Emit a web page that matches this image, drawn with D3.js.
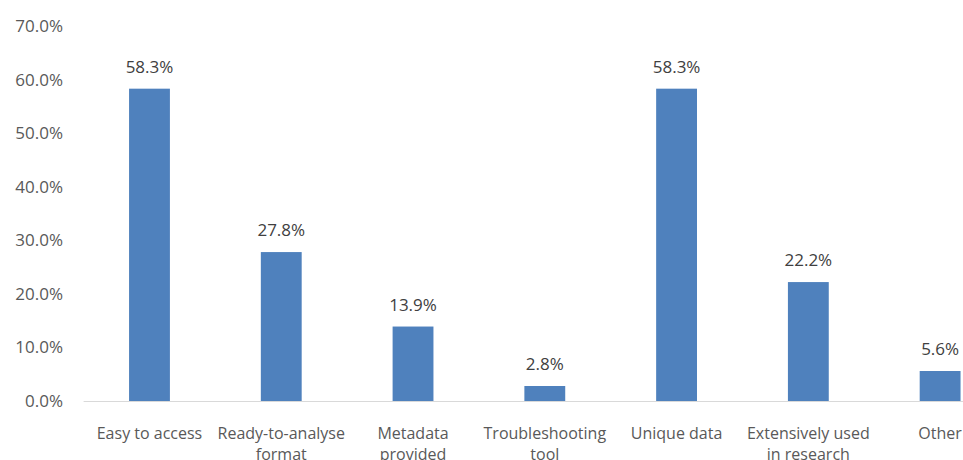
<!DOCTYPE html>
<html>
<head>
<meta charset="utf-8">
<script src="https://cdn.jsdelivr.net/npm/d3@7"></script>
<style>
  html, body { margin: 0; padding: 0; background: #fff; }
  svg { display: block; }
  text { font-family: "Open Sans", "Lato", sans-serif; }
</style>
</head>
<body>
<svg id="chart" width="963" height="460"></svg>
<script>
// Reasons for choosing the data source (share of respondents)
const categories = [
  ["Easy to access"],
  ["Ready-to-analyse", "format"],
  ["Metadata", "provided"],
  ["Troubleshooting", "tool"],
  ["Unique data"],
  ["Extensively used", "in research"],
  ["Other"]
];
const values = [58.3, 27.8, 13.9, 2.8, 58.3, 22.2, 5.6];
const yTicks = [0, 10, 20, 30, 40, 50, 60, 70];

const svg = d3.select("#chart");
const W = 963, H = 460;

const plotLeft = 83.6, plotRight = 1006, plotTop = 26, plotBottom = 401;

const keys = categories.map(c => c.join(" "));
const x = d3.scaleBand()
  .domain(keys)
  .range([plotLeft, plotRight])
  .paddingInner(0.69)
  .paddingOuter(0.345);

const y = d3.scaleLinear().domain([0, 70]).range([plotBottom, plotTop]);

// y axis labels
const yAxis = d3.axisLeft(y)
  .tickValues(yTicks)
  .tickSize(0)
  .tickPadding(0)
  .tickFormat(d => d.toFixed(1) + "%");
const gy = svg.append("g").attr("transform", "translate(63,0)").call(yAxis);
gy.select(".domain").remove();
gy.selectAll("text")
  .attr("fill", "#595959")
  .style("font-size", "17px")
  .style("font-family", "'Open Sans', sans-serif");

// bars
svg.append("g").selectAll("rect")
  .data(values)
  .join("rect")
  .attr("x", (d, i) => x(keys[i]))
  .attr("width", x.bandwidth())
  .attr("y", d => y(d))
  .attr("height", d => y(0) - y(d))
  .attr("fill", "#4F81BD");

// baseline
svg.append("line")
  .attr("x1", plotLeft).attr("x2", W)
  .attr("y1", y(0) + 0.5).attr("y2", y(0) + 0.5)
  .attr("stroke", "#D9D9D9").attr("stroke-width", 1);

// value labels
svg.append("g").selectAll("text")
  .data(values)
  .join("text")
  .attr("x", (d, i) => x(keys[i]) + x.bandwidth() / 2)
  .attr("y", d => y(d) - 16)
  .attr("text-anchor", "middle")
  .attr("fill", "#404040")
  .style("font-size", "17px")
  .text(d => d.toFixed(1) + "%");

// category labels
const gx = svg.append("g");
categories.forEach((lines, i) => {
  const t = gx.append("text")
    .attr("x", x(keys[i]) + x.bandwidth() / 2)
    .attr("y", 439)
    .attr("text-anchor", "middle")
    .attr("fill", "#595959")
    .style("font-size", "16px");
  lines.forEach((ln, j) => {
    t.append("tspan")
      .attr("x", x(keys[i]) + x.bandwidth() / 2)
      .attr("dy", j === 0 ? 0 : 21)
      .text(ln);
  });
});
</script>
</body>
</html>
